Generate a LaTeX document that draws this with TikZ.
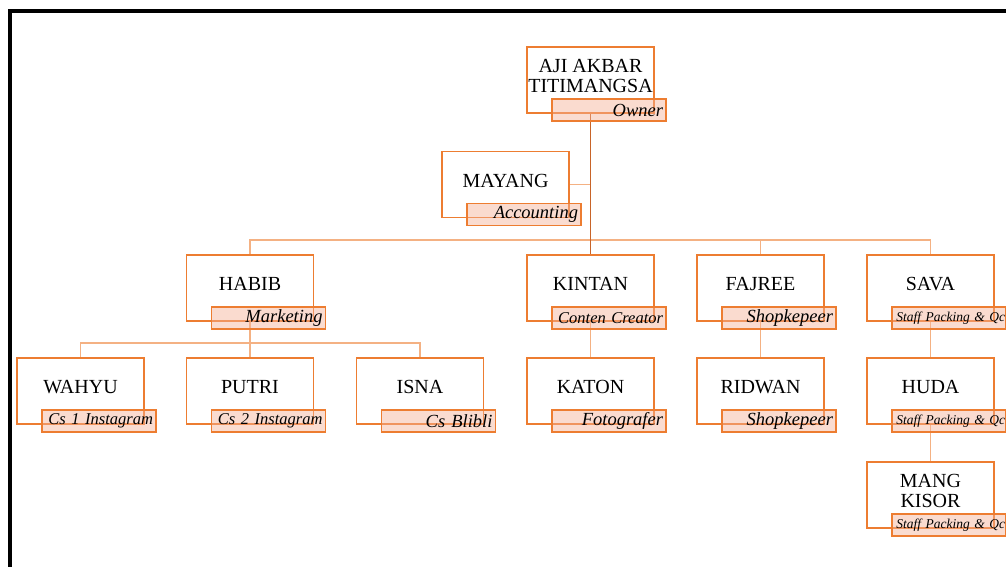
\documentclass[tikz,border=0pt]{standalone}
\usepackage{fontspec}
\setmainfont{Liberation Serif}
\usepackage{tikz}
\usetikzlibrary{positioning,backgrounds}
\definecolor{boxline}{RGB}{237,125,49}
\definecolor{linkline}{RGB}{244,177,131}
\definecolor{trunkline}{RGB}{200,100,40}
\definecolor{rolefill}{RGB}{244,177,150}

\begin{document}
\begin{tikzpicture}[x=1pt,y=-1pt,
  namebox/.style={draw=boxline,line width=1.1pt,fill=white,align=center,minimum width=127pt,minimum height=66pt,inner sep=0pt,text depth=8pt,font=\fontsize{20}{20}\selectfont},
  rolebox/.style={draw=boxline,line width=1.1pt,fill=rolefill,fill opacity=0.45,text opacity=1,text width=108pt,align=right,inner xsep=3pt,inner ysep=0pt,minimum height=22pt,anchor=south east,font=\fontsize{18.5}{18}\selectfont\itshape},
  fitrole/.style={font=\fontsize{16.5}{18}\selectfont\itshape},
  smallrole/.style={text width=112pt,inner xsep=1pt,font=\fontsize{13.5}{15}\selectfont\itshape},
  link/.style={draw=linkline,line width=1.1pt}
]
  \useasboundingbox (0,0) rectangle (1006,567);
  \draw[line width=4pt] (9.5,567) -- (9.5,11) -- (1006,11);

  \node[namebox] (owner) at (590.5,80) {AJI AKBAR\\TITIMANGSA};
  \node[namebox] (mayang) at (505.5,184.5) {MAYANG};
  \node[namebox] (habib) at (250,288) {HABIB};
  \node[namebox] (kintan) at (590.5,288) {KINTAN};
  \node[namebox] (fajree) at (760.5,288) {FAJREE};
  \node[namebox] (sava) at (930.5,288) {SAVA};
  \node[namebox] (wahyu) at (80.5,391) {WAHYU};
  \node[namebox] (putri) at (250,391) {PUTRI};
  \node[namebox] (isna) at (420,391) {ISNA};
  \node[namebox] (katon) at (590.5,391) {KATON};
  \node[namebox] (ridwan) at (760.5,391) {RIDWAN};
  \node[namebox] (huda) at (930.5,391) {HUDA};
  \node[namebox] (kisor) at (930.5,495) {MANG\\KISOR};

  \node[rolebox] (ownerrole) at ([xshift=12pt,yshift=-8pt]owner.south east) {Owner};
  \node[rolebox] (mayangrole) at ([xshift=12pt,yshift=-8pt]mayang.south east) {Accounting};
  \node[rolebox] (habibrole) at ([xshift=12pt,yshift=-8pt]habib.south east) {Marketing};
  \node[rolebox,fitrole] (kintanrole) at ([xshift=12pt,yshift=-8pt]kintan.south east) {Conten Creator};
  \node[rolebox] (fajreerole) at ([xshift=12pt,yshift=-8pt]fajree.south east) {Shopkepeer};
  \node[rolebox,smallrole] (savarole) at ([xshift=12pt,yshift=-8pt]sava.south east) {\mbox{Staff Packing \& Qc}};
  \node[rolebox,fitrole] (wahyurole) at ([xshift=12pt,yshift=-8pt]wahyu.south east) {Cs 1 Instagram};
  \node[rolebox,fitrole] (putrirole) at ([xshift=12pt,yshift=-8pt]putri.south east) {Cs 2 Instagram};
  \node[rolebox] (isnarole) at ([xshift=12pt,yshift=-8pt]isna.south east) {Cs Blibli};
  \node[rolebox] (katonrole) at ([xshift=12pt,yshift=-8pt]katon.south east) {Fotografer};
  \node[rolebox] (ridwanrole) at ([xshift=12pt,yshift=-8pt]ridwan.south east) {Shopkepeer};
  \node[rolebox,smallrole] (hudarole) at ([xshift=12pt,yshift=-8pt]huda.south east) {\mbox{Staff Packing \& Qc}};
  \node[rolebox,smallrole] (kisorrole) at ([xshift=12pt,yshift=-8pt]kisor.south east) {\mbox{Staff Packing \& Qc}};

  \coordinate (topbus) at (590.5,240);
  \coordinate (habibbus) at (250,343);
  \begin{scope}[on background layer]
    \draw[link] (mayang.east) -- (mayang.east -| owner.south);
    \draw[link] (habib.north) |- (sava.north |- topbus) -- (sava.north);
    \draw[link] (fajree.north) -- (fajree.north |- topbus);
    \draw[link] (habib.south) -- (putri.north);
    \draw[link] (wahyu.north) |- (isna.north |- habibbus) -- (isna.north);
    \draw[link] (kintan.south) -- (katon.north);
    \draw[link] (fajree.south) -- (ridwan.north);
    \draw[link] (sava.south) -- (huda.north);
    \draw[link] (huda.south) -- (kisor.north);
    \draw[link,draw=trunkline,line width=1.5pt] (owner.south) -- (kintan.north);
  \end{scope}
\end{tikzpicture}
\end{document}
